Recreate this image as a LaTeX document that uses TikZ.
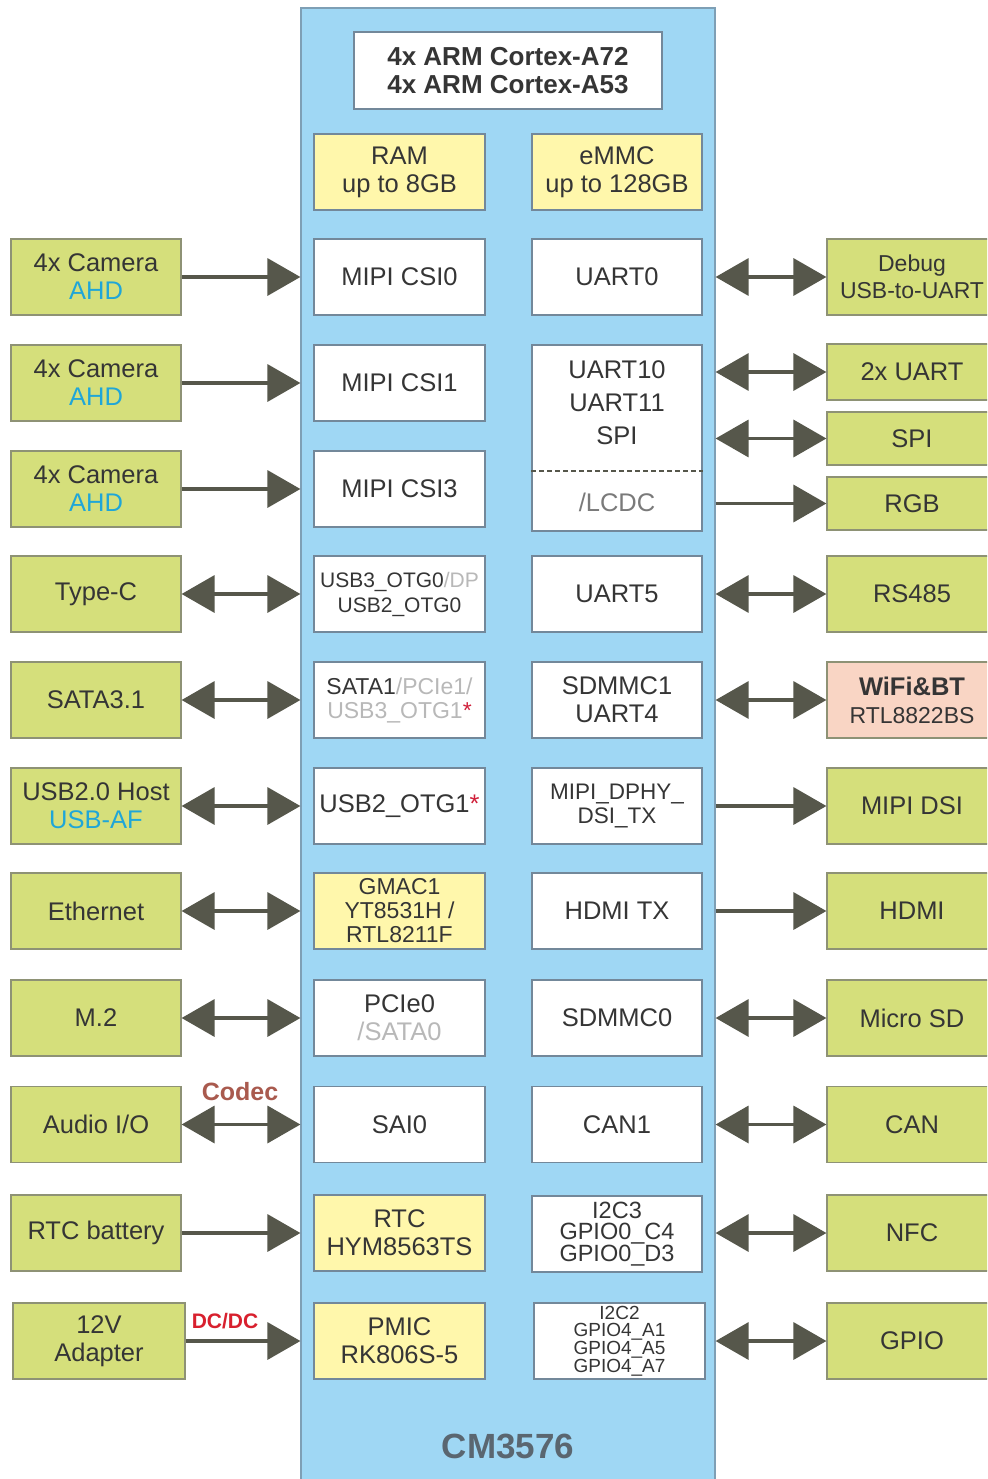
\documentclass[tikz,border=0pt]{standalone}
\usepackage{fontspec}
\setmainfont{Liberation Sans}
\usetikzlibrary{arrows.meta}
\definecolor{chipblue}{HTML}{9FD7F4}
\definecolor{chipedge}{HTML}{7E9FB5}
\definecolor{grn}{HTML}{D5DF7B}
\definecolor{grnedge}{HTML}{8E9275}
\definecolor{ylw}{HTML}{FFF7AB}
\definecolor{pnk}{HTML}{F9D5C4}
\definecolor{boxedge}{HTML}{73889A}
\definecolor{arr}{HTML}{56574B}
\definecolor{txt}{HTML}{353535}
\definecolor{cyn}{HTML}{1FA6D8}
\definecolor{lgray}{HTML}{B8B8B8}
\definecolor{mgray}{HTML}{7A7A7A}
\definecolor{star}{HTML}{D0203A}
\definecolor{codec}{HTML}{A95A4E}
\definecolor{dcdc}{HTML}{D8202E}
\definecolor{cmtxt}{HTML}{5A6670}
\tikzset{
 base/.style={draw, line width=1.2pt, inner sep=0pt, minimum width=171pt, minimum height=76pt, align=center, text=txt, font=\fontsize{25.5}{28}\selectfont},
 wbox/.style={base, fill=white, draw=boxedge},
 ybox/.style={base, fill=ylw, draw=boxedge},
 gbox/.style={base, fill=grn, draw=grnedge, minimum width=170pt},
 pbox/.style={base, fill=pnk, draw=grnedge, minimum width=170pt},
 one/.style={-{Triangle[length=33pt,width=37pt]}, line width=3.5pt, draw=arr},
 two/.style={{Triangle[length=33pt,width=37pt]}-{Triangle[length=33pt,width=37pt]}, line width=3.5pt, draw=arr},
 lbl/.style={inner sep=0pt},
}
\begin{document}
\begin{tikzpicture}[x=1pt,y=-1pt]
\useasboundingbox (0,0) rectangle (987,1479);
\clip (0,0) rectangle (987,1479);
\fill[white] (0,0) rectangle (987,1479);

% chip
\node[draw=chipedge, fill=chipblue, line width=1.2pt, minimum width=414pt, minimum height=1482pt, inner sep=0pt] (chip) at (508,749) {};
\node[wbox, minimum width=308pt, minimum height=77pt, font=\bfseries\fontsize{26}{28}\selectfont] (cpu) at (508,70.5) {4x ARM Cortex-A72\\4x ARM Cortex-A53};
\node[lbl, font=\bfseries\fontsize{35}{38}\selectfont, text=cmtxt] (cm) at (508,1446) {CM3576};

% inner left column
\node[ybox] (I0) at (399.5,172) {RAM\\up to 8GB};
\node[wbox] (I1) at (399.5,277) {MIPI CSI0};
\node[wbox] (I2) at (399.5,383) {MIPI CSI1};
\node[wbox] (I3) at (399.5,489) {MIPI CSI3};
\node[wbox, font=\fontsize{21}{25}\selectfont] (I4) at (399.5,594) {USB3\_OTG0\textcolor{lgray}{/DP}\\USB2\_OTG0};
\node[wbox, font=\fontsize{23}{24}\selectfont] (I5) at (399.5,700) {SATA1\textcolor{lgray}{/PCIe1/}\\\textcolor{lgray}{USB3\_OTG1}\textcolor{star}{*}};
\node[wbox] (I6) at (399.5,806) {USB2\_OTG1\textcolor{star}{*}};
\node[ybox, font=\fontsize{23}{24}\selectfont] (I7) at (399.5,911) {GMAC1\\YT8531H /\\RTL8211F};
\node[wbox] (I8) at (399.5,1018) {PCIe0\\\textcolor{lgray}{/SATA0}};
\node[wbox] (I9) at (399.5,1124.5) {SAI0};
\node[ybox] (I10) at (399.5,1233) {RTC\\HYM8563TS};
\node[ybox] (I11) at (399.5,1341) {PMIC\\RK806S-5};

% inner right column
\node[ybox, minimum width=170pt] (R0) at (617,172) {eMMC\\up to 128GB};
\node[wbox, minimum width=170pt] (R1) at (617,277) {UART0};
\node[wbox, minimum width=170pt, minimum height=186pt] (ug) at (617,438) {};
\node[lbl, align=center, text=txt, font=\fontsize{25.5}{33}\selectfont] (ugt) at (617,403) {UART10\\UART11\\SPI};
\node[lbl, text=mgray, font=\fontsize{25.5}{28}\selectfont] (lcdc) at (617,502) {/LCDC};
\coordinate (dl) at (617,471);
\draw[draw=arr, line width=1.5pt, dash pattern=on 5pt off 3pt] (ug.west |- dl) -- (ug.east |- dl);
\node[wbox, minimum width=170pt] (R4) at (617,594) {UART5};
\node[wbox, minimum width=170pt] (R5) at (617,700) {SDMMC1\\UART4};
\node[wbox, minimum width=170pt, font=\fontsize{22.5}{24}\selectfont] (R6) at (617,806) {MIPI\_DPHY\_\\DSI\_TX};
\node[wbox, minimum width=170pt] (R7) at (617,911) {HDMI TX};
\node[wbox, minimum width=170pt] (R8) at (617,1018) {SDMMC0};
\node[wbox, minimum width=170pt] (R9) at (617,1124.5) {CAN1};
\node[wbox, minimum width=170pt, font=\fontsize{23.5}{21.5}\selectfont] (R10) at (617,1234) {I2C3\\GPIO0\_C4\\GPIO0\_D3};
\node[wbox, minimum width=171pt, font=\fontsize{19}{16.7}\selectfont] (R11) at (619.5,1341) {I2C2\\GPIO4\_A1\\GPIO4\_A5\\GPIO4\_A7};

% left outer column
\node[gbox] (L1) at (96,277) {4x Camera\\\textcolor{cyn}{AHD}};
\node[gbox] (L2) at (96,383) {4x Camera\\\textcolor{cyn}{AHD}};
\node[gbox] (L3) at (96,489) {4x Camera\\\textcolor{cyn}{AHD}};
\node[gbox] (L4) at (96,594) {Type-C};
\node[gbox] (L5) at (96,700) {SATA3.1};
\node[gbox] (L6) at (96,806) {USB2.0 Host\\\textcolor{cyn}{USB-AF}};
\node[gbox] (L7) at (96,911) {Ethernet};
\node[gbox] (L8) at (96,1018) {M.2};
\node[gbox] (L9) at (96,1124.5) {Audio I/O};
\node[gbox] (L10) at (96,1233) {RTC battery};
\node[gbox, minimum width=172pt] (L11) at (99,1341) {12V\\Adapter};

% right outer column
\node[gbox, font=\fontsize{23}{27}\selectfont] (O1) at (912,277) {Debug\\USB-to-UART};
\node[gbox, minimum height=56pt] (O2) at (912,372) {2x UART};
\node[gbox, minimum height=53pt] (O3) at (912,438.5) {SPI};
\node[gbox, minimum height=53pt] (O4) at (912,503.5) {RGB};
\node[gbox] (O5) at (912,594) {RS485};
\node[pbox] (O6) at (912,700) {{\bfseries WiFi\&BT}\\{\fontsize{23}{26}\selectfont RTL8822BS}};
\node[gbox] (O7) at (912,806) {MIPI DSI};
\node[gbox] (O8) at (912,911) {HDMI};
\node[gbox] (O9) at (912,1018) {Micro SD};
\node[gbox] (O10) at (912,1124.5) {CAN};
\node[gbox] (O11) at (912,1233) {NFC};
\node[gbox] (O12) at (912,1341) {GPIO};

% labels
\node[lbl, text=codec, font=\bfseries\fontsize{25}{28}\selectfont] (codec) at (240,1092) {Codec};
\node[lbl, text=dcdc, font=\bfseries\fontsize{21}{24}\selectfont] (dc) at (225,1321) {DC/DC};

% left arrows
\draw[one] (L1.east) -- (chip.west |- L1.east);
\draw[one] (L2.east) -- (chip.west |- L2.east);
\draw[one] (L3.east) -- (chip.west |- L3.east);
\draw[two] (L4.east) -- (chip.west |- L4.east);
\draw[two] (L5.east) -- (chip.west |- L5.east);
\draw[two] (L6.east) -- (chip.west |- L6.east);
\draw[two] (L7.east) -- (chip.west |- L7.east);
\draw[two] (L8.east) -- (chip.west |- L8.east);
\draw[two] (L9.east) -- (chip.west |- L9.east);
\draw[one] (L10.east) -- (chip.west |- L10.east);
\draw[one] (L11.east) -- (chip.west |- L11.east);

% right arrows
\draw[two] (chip.east |- O1.west) -- (O1.west);
\draw[two] (chip.east |- O2.west) -- (O2.west);
\draw[two] (chip.east |- O3.west) -- (O3.west);
\draw[one] (chip.east |- O4.west) -- (O4.west);
\draw[two] (chip.east |- O5.west) -- (O5.west);
\draw[two] (chip.east |- O6.west) -- (O6.west);
\draw[one] (chip.east |- O7.west) -- (O7.west);
\draw[one] (chip.east |- O8.west) -- (O8.west);
\draw[two] (chip.east |- O9.west) -- (O9.west);
\draw[two] (chip.east |- O10.west) -- (O10.west);
\draw[two] (chip.east |- O11.west) -- (O11.west);
\draw[two] (chip.east |- O12.west) -- (O12.west);
\end{tikzpicture}
\end{document}
